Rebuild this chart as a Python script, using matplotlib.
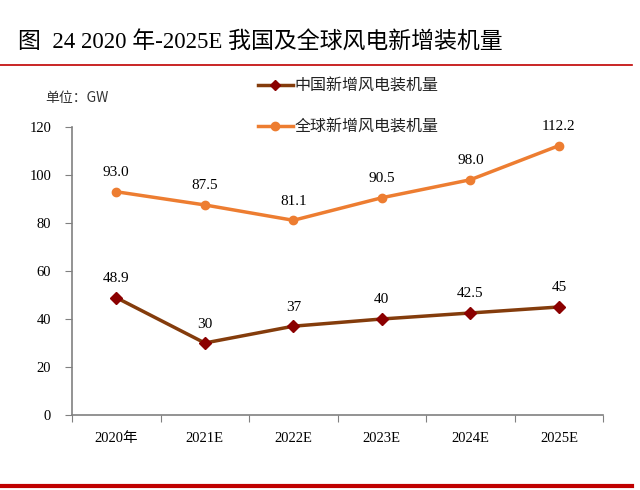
import matplotlib.pyplot as plt
from matplotlib.lines import Line2D

years = ["2020年", "2021E", "2022E", "2023E", "2024E", "2025E"]
china = [48.9, 30, 37, 40, 42.5, 45]
china_labels = ["48.9", "30", "37", "40", "42.5", "45"]
world = [93.0, 87.5, 81.1, 90.5, 98.0, 112.2]
world_labels = ["93.0", "87.5", "81.1", "90.5", "98.0", "112.2"]

SERIF = ["Liberation Serif", "Noto Sans CJK SC"]
CJK = ["Noto Sans CJK SC", "Liberation Serif"]

fig = plt.figure(figsize=(6.4, 4.9), dpi=100)
ax = fig.add_axes([0.1125, 0.153, 0.83, 0.588])

x = list(range(len(years)))
ax.plot(x, china, color="#843C0C", lw=2.5, marker="D", ms=6,
        mfc="#8B0000", mec="#8B0000", zorder=3)
ax.plot(x, world, color="#ED7D31", lw=2.5, marker="o", ms=6,
        mfc="#ED7D31", mec="#ED7D31", zorder=3)

for i in x:
    ax.annotate(china_labels[i], (i, china[i]), xytext=(0, 9), textcoords="offset points",
                ha="center", va="bottom", fontsize=11, family=SERIF)
    ax.annotate(world_labels[i], (i, world[i]), xytext=(0, 9), textcoords="offset points",
                ha="center", va="bottom", fontsize=11, family=SERIF)

ax.set_xlim(-0.5, len(years) - 0.5)
ax.set_ylim(0, 120)
ax.set_yticks(range(0, 121, 20))
ax.set_xticks([i - 0.5 for i in range(len(years) + 1)], minor=False)
ax.set_xticklabels([])
ax.set_xticks(x, minor=True)
ax.set_xticklabels(years, minor=True)
ax.tick_params(axis="x", which="minor", length=0, pad=12)
ax.tick_params(axis="x", which="major", length=5, direction="out", color="#808080")
ax.tick_params(axis="y", length=5, direction="out", color="#808080", pad=10)
for lab in ax.get_yticklabels() + ax.get_xticklabels(minor=True):
    lab.set_family(SERIF)
    lab.set_fontsize(10.5)

for s in ["top", "right"]:
    ax.spines[s].set_visible(False)
for s in ["left", "bottom"]:
    ax.spines[s].set_color("#808080")
    ax.spines[s].set_linewidth(1.2)

# legend entries
handles = [
    Line2D([], [], color="#843C0C", lw=2.5, marker="D", ms=5, mfc="#8B0000", mec="#8B0000"),
    Line2D([], [], color="#ED7D31", lw=2.5, marker="o", ms=6, mfc="#ED7D31", mec="#ED7D31"),
]
leg = fig.legend(handles, ["中国新增风电装机量", "全球新增风电装机量"],
                 loc="upper left", bbox_to_anchor=(0.38, 0.87), frameon=False,
                 prop={"family": CJK, "size": 11.5}, handlelength=2.2,
                 handletextpad=0.1, labelspacing=1.5)
for t in leg.get_texts():
    t.set_color("#222222")

fig.text(0.07, 0.80, "单位：GW", fontsize=10, family=CJK, va="center", color="#333333")

fig.text(0.028, 0.914, "图  24 2020 年-2025E 我国及全球风电新增装机量", fontsize=16.5,
         family=SERIF, va="center", weight="medium")

fig.add_artist(Line2D([0, 0.988], [0.868, 0.868], color="#C00000", lw=1.2))
fig.add_artist(Line2D([0, 0.988], [0.008, 0.008], color="#C00000", lw=3))

fig.savefig("out.png", dpi=100)
